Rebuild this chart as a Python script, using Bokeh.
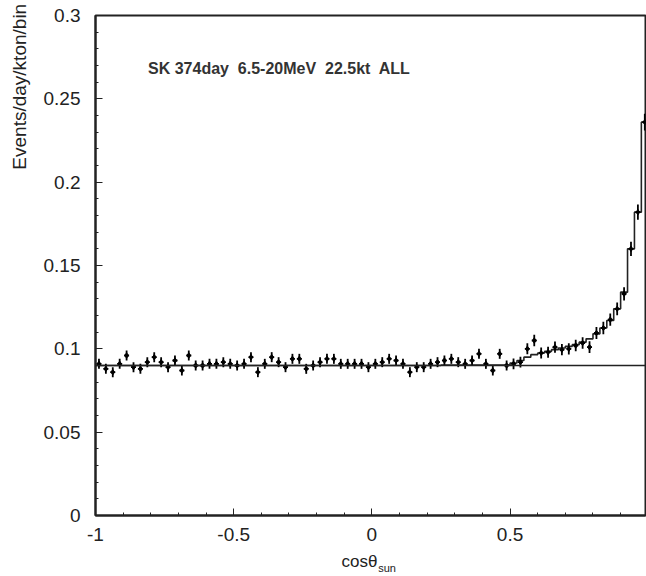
import numpy as np
from math import pi
from bokeh.plotting import figure
from bokeh.models import Label, Span, FixedTicker, Range1d
from bokeh.embed import file_html
from bokeh.resources import INLINE

# ---- data ----
bin_lo = -1.0
bin_width = 0.025
n_bins = 80

rate = [0.091, 0.088, 0.086, 0.091, 0.096, 0.089, 0.088, 0.092, 0.095, 0.092,
        0.089, 0.093, 0.087, 0.096, 0.090, 0.090, 0.091, 0.091, 0.092, 0.091,
        0.090, 0.091, 0.095, 0.086, 0.091, 0.095, 0.092, 0.089, 0.094, 0.094,
        0.088, 0.090, 0.092, 0.094, 0.094, 0.091, 0.091, 0.091, 0.091, 0.089,
        0.091, 0.092, 0.094, 0.093, 0.091, 0.086, 0.089, 0.089, 0.091, 0.092,
        0.093, 0.094, 0.092, 0.091, 0.093, 0.097, 0.091, 0.087, 0.097, 0.090,
        0.091, 0.092, 0.100, 0.105, 0.0975, 0.098, 0.101, 0.0995, 0.100, 0.102,
        0.1035, 0.101, 0.1095, 0.1125, 0.1175, 0.124, 0.133, 0.160, 0.182, 0.236]

rate_err = [0.003] * 60 + [0.0032, 0.0032, 0.0033, 0.0034, 0.0033, 0.0033, 0.0034, 0.0034,
                           0.0034, 0.0035, 0.0035, 0.0035, 0.0036, 0.0037, 0.0037, 0.0038,
                           0.0040, 0.0043, 0.0046, 0.0050]

expected = [0.0900] * 50 + [0.0903] * 10 + [0.0915, 0.0930, 0.0950, 0.0965, 0.0975, 0.0985,
                                            0.0995, 0.1005, 0.1015, 0.1025, 0.1040, 0.1060,
                                            0.1090, 0.1125, 0.1170, 0.1240, 0.1340, 0.1600,
                                            0.1820, 0.2360]

background = 0.09

title_text = "SK 374day\u00a0 6.5-20MeV\u00a0 22.5kt\u00a0 ALL"
y_label = "Events/day/kton/bin"
x_label_main = "cosθ"
x_label_sub = "sun"
x_ticks = [-1, -0.5, 0, 0.5]
y_ticks = [0, 0.05, 0.1, 0.15, 0.2, 0.25, 0.3]

# ---- derived ----
edges = bin_lo + bin_width * np.arange(n_bins + 1)
centers = edges[:-1] + bin_width / 2
rate = np.array(rate)
rate_err = np.array(rate_err)

FONT = "Liberation Sans"
INK = "#222222"

p = figure(width=646, height=576, output_backend="svg", toolbar_location=None,
           x_range=Range1d(-1.0, 0.99), y_range=Range1d(0.0, 0.3),
           min_border_left=95, min_border_right=1, min_border_top=15, min_border_bottom=61,
           background_fill_color="white", border_fill_color="white")
p.grid.visible = False
p.outline_line_color = INK
p.outline_line_width = 2

for ax in (p.xaxis[0], p.yaxis[0]):
    ax.axis_line_color = INK
    ax.axis_line_width = 2
    ax.major_tick_in = 7
    ax.major_tick_out = 0
    ax.minor_tick_in = 3
    ax.minor_tick_out = 0
    ax.major_tick_line_color = INK
    ax.minor_tick_line_color = INK
    ax.major_label_text_font = FONT
    ax.major_label_text_font_size = "19px"
    ax.major_label_text_color = INK

p.xaxis.ticker = FixedTicker(ticks=x_ticks, minor_ticks=list(np.round(np.arange(-1, 1.001, 0.1), 2)))
p.yaxis.ticker = FixedTicker(ticks=y_ticks, minor_ticks=list(np.round(np.arange(0, 0.3001, 0.01), 3)))
p.xaxis.major_label_standoff = 12
p.yaxis.major_label_standoff = 15
p.xaxis.major_label_overrides = {-1: "-1", -0.5: "-0.5", 0: "0", 0.5: "0.5"}
p.yaxis.major_label_overrides = {0: "0", 0.05: "0.05", 0.1: "0.1", 0.15: "0.15",
                                 0.2: "0.2", 0.25: "0.25", 0.3: "0.3"}

# flat background line
p.add_layout(Span(location=background, dimension="width", line_color=INK, line_width=1.5))

# expectation histogram (step)
step_x = list(edges)
step_y = list(expected) + [expected[-1]]
p.step(step_x, step_y, mode="after", line_color=INK, line_width=1.6)

# data points with error bars
p.segment(centers, rate - rate_err, centers, rate + rate_err, line_color="black", line_width=1.8)
p.segment(centers - 0.009, rate, centers + 0.009, rate, line_color="black", line_width=1.8)
p.scatter(centers, rate, size=5.5, marker="diamond", color="black")

# in-plot title
p.add_layout(Label(x=-0.81, y=0.268, text=title_text, text_font=FONT, text_font_size="16px",
                   text_font_style="bold", text_color="#333333", text_baseline="middle",
                   text_align="left"))

# y axis label (top aligned, rotated) -- placed in side panel so it is not clipped
p.add_layout(Label(x=-1.275, y=0.307, text=y_label, angle=pi / 2, text_font=FONT,
                   text_font_size="19px", text_color=INK, text_align="right",
                   text_baseline="middle"), "left")

# x axis label cos(theta)_sun
p.add_layout(Label(x=0.02, y=-0.0275, text=x_label_main, text_font=FONT, text_font_size="17px",
                   text_color=INK, text_align="right", text_baseline="middle"), "below")
p.add_layout(Label(x=0.023, y=-0.0315, text=x_label_sub, text_font=FONT, text_font_size="11px",
                   text_color=INK, text_align="left", text_baseline="middle"), "below")

open("out.html", "w").write(file_html(p, INLINE))
